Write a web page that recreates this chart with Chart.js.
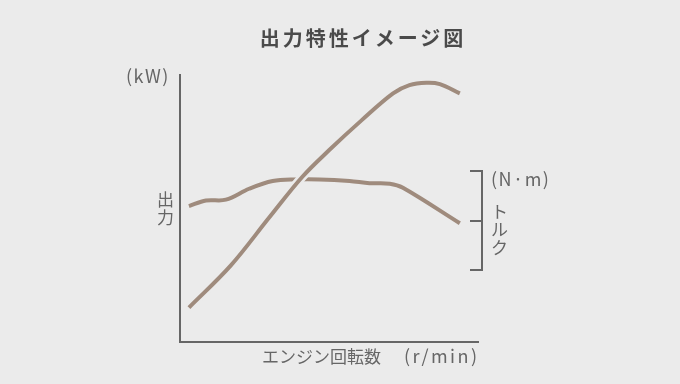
<!DOCTYPE html>
<html lang="ja">
<head>
<meta charset="utf-8">
<script src="https://cdn.jsdelivr.net/npm/chart.js@4.4.1/dist/chart.umd.min.js"></script>
<style>
  body { margin: 0; background: #ebebeb; }
  #wrap { position: relative; width: 680px; height: 384px; background: #ebebeb; font-family: "Noto Sans CJK JP", "Noto Sans", sans-serif; color: #666; }
  #wrap canvas { position: absolute; left: 0; top: 0; }
  .lbl { position: absolute; font-size: 17px; line-height: 1; white-space: nowrap; }
  .lat { font-size: 18px; letter-spacing: 1.5px; }
  #title { left: 0; width: 726px; top: 28px; text-align: center; font-size: 20px; font-weight: bold; letter-spacing: 3px; color: #4a4a4a; }
</style>
</head>
<body>
<div id="wrap">
  <canvas id="chart" width="680" height="384"></canvas>
  <div id="title" class="lbl">出力特性イメージ図</div>
  <div class="lbl lat" style="left:126px; top:66px;">(kW)</div>
  <div class="lbl" style="left:157px; top:190px; line-height:18px;">出<br>力</div>
  <div class="lbl lat" style="left:491px; top:169px;">(N·m)</div>
  <div class="lbl" style="left:491px; top:202px; line-height:18px;">ト<br>ル<br>ク</div>
  <div class="lbl" style="left:262px; top:346px;">エンジン回転数<span class="lat" style="margin-left:23px; letter-spacing:2.5px;">(r/min)</span></div>
</div>
<script>
// 出力カーブ（横軸は相対回転数 0-100、縦軸は相対値 0-100）
const powerRpm = [3, 17, 30, 41, 50, 61, 71.5, 77, 82.7, 87.2, 93.9];
const powerVal = [12.9, 28.6, 46.7, 61.8, 71.8, 83.1, 93.1, 96.2, 97.1, 96.6, 93.1];

// トルクカーブ
const torqueRpm = [3, 8.7, 15.4, 23.2, 31.1, 39, 46.8, 56.9, 63.6, 70.4, 74.8, 93.9];
const torqueVal = [50.9, 53, 53.3, 57.4, 60.3, 60.9, 60.9, 60.3, 59.5, 59.3, 57.8, 44.5];

const lineColor = "#9f8b7d";
const bgColor = "#ebebeb";

const toPoints = (xs, ys) => xs.map((x, i) => ({ x: x, y: ys[i] }));

const ctx = document.getElementById("chart").getContext("2d");
new Chart(ctx, {
  type: "line",
  data: {
    datasets: [
      {
        label: "出力",
        data: toPoints(powerRpm, powerVal),
        borderColor: lineColor,
        borderWidth: 4,
        tension: 0.35,
        pointRadius: 0
      },
      {
        // 交差部分の縁取り（背景色）
        label: "",
        data: toPoints(powerRpm, powerVal),
        borderColor: bgColor,
        borderWidth: 9,
        tension: 0.35,
        pointRadius: 0
      },
      {
        label: "トルク",
        data: toPoints(torqueRpm, torqueVal),
        borderColor: lineColor,
        borderWidth: 4,
        tension: 0.35,
        pointRadius: 0
      }
    ]
  },
  options: {
    responsive: false,
    devicePixelRatio: 1,
    animation: false,
    layout: {
      padding: { left: 180, right: 202, top: 75, bottom: 42 }
    },
    scales: {
      x: {
        type: "linear",
        min: 0,
        max: 100,
        ticks: { display: false },
        grid: { display: false, drawTicks: false },
        border: { display: true, color: "#666", width: 2 }
      },
      y: {
        min: 0,
        max: 100,
        ticks: { display: false },
        grid: { display: false, drawTicks: false },
        border: { display: true, color: "#666", width: 2 }
      }
    },
    plugins: {
      legend: { display: false },
      tooltip: { enabled: false }
    }
  },
  plugins: [{
    // 右側のトルク用ブラケット
    id: "bracket",
    afterDraw(chart) {
      const c = chart.ctx;
      c.save();
      c.strokeStyle = "#666";
      c.lineWidth = 2;
      c.beginPath();
      c.moveTo(470, 171);
      c.lineTo(482, 171);
      c.lineTo(482, 270);
      c.lineTo(470, 270);
      c.moveTo(470, 221);
      c.lineTo(482, 221);
      c.stroke();
      c.restore();
    }
  }]
});
</script>
</body>
</html>
